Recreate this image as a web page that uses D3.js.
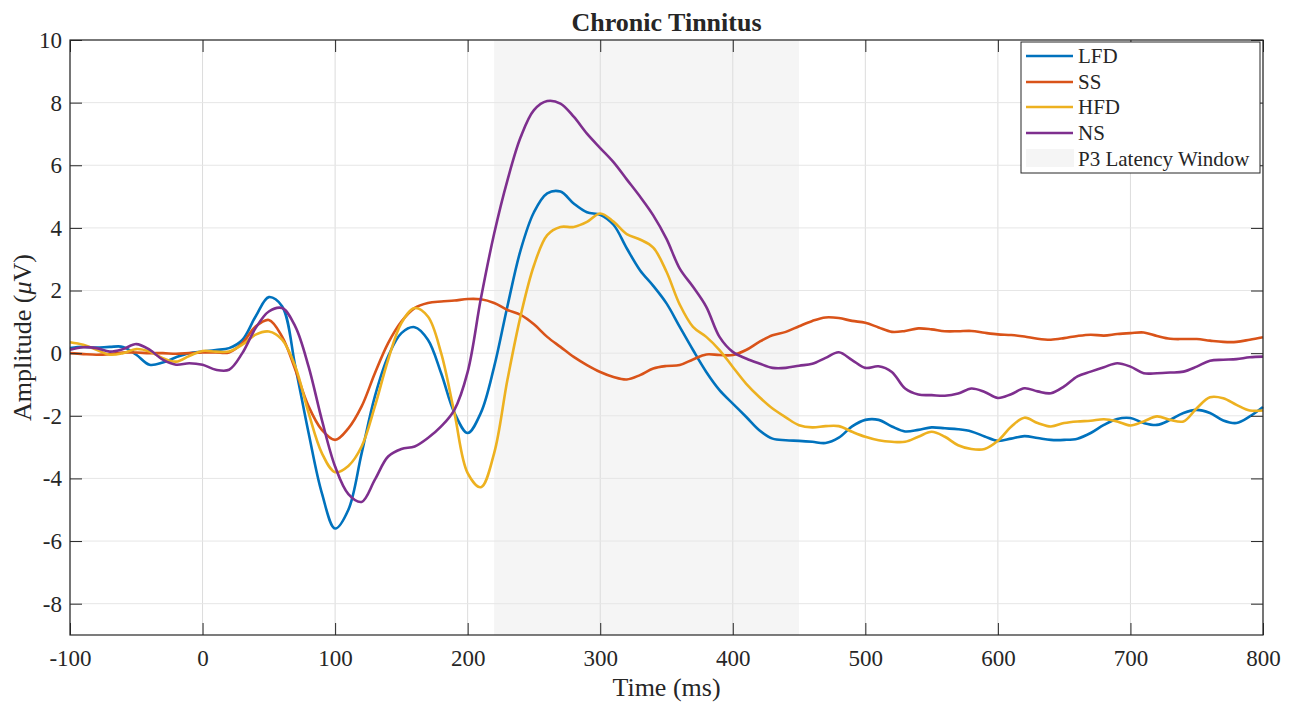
<!DOCTYPE html>
<html>
<head>
<meta charset="utf-8">
<script src="https://cdn.jsdelivr.net/npm/d3@7"></script>
<style>
  body { margin: 0; background: #fff; }
  svg text { font-family: "Liberation Serif", "Times New Roman", serif; fill: #262626; }
</style>
</head>
<body>
<div id="graph"></div>
<script>
// sample times (ms) shared by every series
const time = [-100, -90, -80, -70, -60, -50, -40, -30, -20, -10,
    0, 10, 20, 30, 40, 50, 60, 70, 80, 90,
    100, 110, 120, 130, 140, 150, 160, 170, 180, 190,
    200, 210, 220, 230, 240, 250, 260, 270, 280, 290,
    300, 310, 320, 330, 340, 350, 360, 370, 380, 390,
    400, 410, 420, 430, 440, 450, 460, 470, 480, 490,
    500, 510, 520, 530, 540, 550, 560, 570, 580, 590,
    600, 610, 620, 630, 640, 650, 660, 670, 680, 690,
    700, 710, 720, 730, 740, 750, 760, 770, 780, 790, 800];

const lfd = [0.16, 0.2, 0.18, 0.2, 0.2, -0.05, -0.37, -0.3, -0.13, 0,
    0.05, 0.1, 0.16, 0.42, 1.17, 1.79, 1.5, -0.43, -2.55, -4.47,
    -5.6, -5.0, -3.2, -1.38, -0.1, 0.64, 0.83, 0.43, -0.64, -1.9,
    -2.55, -1.9, -0.43, 1.5, 3.3, 4.5, 5.1, 5.16, 4.78, 4.5,
    4.42, 4.1, 3.35, 2.65, 2.15, 1.59, 0.84, 0.1, -0.6, -1.18,
    -1.61, -2.03, -2.46, -2.73, -2.78, -2.8, -2.83, -2.87, -2.7, -2.34,
    -2.13, -2.13, -2.34, -2.5, -2.45, -2.37, -2.4, -2.43, -2.5, -2.66,
    -2.8, -2.73, -2.65, -2.71, -2.77, -2.77, -2.73, -2.55, -2.29, -2.1,
    -2.07, -2.23, -2.29, -2.13, -1.91, -1.81, -1.91, -2.15, -2.23, -2.02, -1.72];

const ss = [0, -0.03, -0.05, -0.03, 0.02, 0.02, 0, 0, -0.02, 0,
    0.02, 0.02, 0.02, 0.32, 0.85, 1.06, 0.53, -0.53, -1.7, -2.45,
    -2.77, -2.4, -1.7, -0.64, 0.32, 1.01, 1.44, 1.6, 1.65, 1.68,
    1.73, 1.72, 1.6, 1.38, 1.22, 0.92, 0.52, 0.2, -0.12, -0.38,
    -0.6, -0.76, -0.84, -0.7, -0.49, -0.41, -0.38, -0.2, -0.04, -0.06,
    -0.06, 0.1, 0.36, 0.57, 0.68, 0.86, 1.03, 1.14, 1.12, 1.03,
    0.97, 0.82, 0.68, 0.71, 0.79, 0.76, 0.7, 0.7, 0.71, 0.65,
    0.6, 0.58, 0.53, 0.46, 0.43, 0.48, 0.55, 0.59, 0.56, 0.61,
    0.64, 0.66, 0.55, 0.46, 0.45, 0.45, 0.4, 0.36, 0.36, 0.43, 0.51];

const hfd = [0.35, 0.27, 0.11, -0.05, 0, 0.13, 0.05, -0.16, -0.27, -0.09,
    0.07, 0.05, 0.05, 0.27, 0.59, 0.69, 0.43, -0.43, -1.91, -3.19,
    -3.8, -3.6, -2.98, -1.7, -0.21, 0.96, 1.44, 1.17, 0, -1.91,
    -3.83, -4.28, -3.19, -0.85, 1.2, 2.8, 3.77, 4.03, 4.03, 4.19,
    4.46, 4.2, 3.8, 3.63, 3.37, 2.6, 1.55, 0.84, 0.52, 0.1,
    -0.44, -0.97, -1.4, -1.77, -2.05, -2.3, -2.37, -2.33, -2.33, -2.51,
    -2.67, -2.78, -2.83, -2.83, -2.67, -2.51, -2.67, -2.94, -3.06, -3.06,
    -2.8, -2.35, -2.06, -2.23, -2.34, -2.23, -2.18, -2.16, -2.11, -2.18,
    -2.31, -2.18, -2.02, -2.13, -2.18, -1.76, -1.41, -1.44, -1.65, -1.83, -1.83];

const ns = [0.11, 0.19, 0.16, 0.05, 0.13, 0.29, 0.11, -0.21, -0.37, -0.32,
    -0.37, -0.53, -0.53, 0, 0.8, 1.33, 1.44, 0.85, -0.43, -2.13,
    -3.62, -4.5, -4.75, -4.04, -3.3, -3.06, -2.98, -2.71, -2.34, -1.81,
    -0.6, 1.75, 3.82, 5.52, 6.9, 7.76, 8.05, 7.97, 7.55, 7.01,
    6.55, 6.1, 5.55, 5.0, 4.4, 3.65, 2.7, 2.12, 1.48, 0.52,
    0.04, -0.17, -0.33, -0.47, -0.47, -0.4, -0.34, -0.15, 0.03, -0.22,
    -0.47, -0.42, -0.6, -1.13, -1.32, -1.34, -1.36, -1.29, -1.13, -1.24,
    -1.43, -1.31, -1.12, -1.22, -1.28, -1.06, -0.74, -0.59, -0.45, -0.32,
    -0.43, -0.64, -0.64, -0.62, -0.59, -0.43, -0.24, -0.21, -0.19, -0.13, -0.11];

const seriesNames = ['LFD', 'SS', 'HFD', 'NS'];
const seriesColors = ['#0072BD', '#D95319', '#EDB120', '#7E2F8E'];
const p3Window = [220, 450];
const xTicks = [-100, 0, 100, 200, 300, 400, 500, 600, 700, 800];
const yTicks = [-8, -6, -4, -2, 0, 2, 4, 6, 8, 10];

const W = 1303, H = 709;
const margin = { top: 40, right: 40, bottom: 74, left: 70 },
    width = W - margin.left - margin.right,
    height = H - margin.top - margin.bottom;

const svg = d3.select('#graph').append('svg')
    .attr('width', W).attr('height', H);
const g = svg.append('g')
    .attr('transform', 'translate(' + margin.left + ',' + margin.top + ')');

const x = d3.scaleLinear().domain([-100, 800]).range([0, width]);
const y = d3.scaleLinear().domain([-9, 10]).range([height, 0]);

// shaded P3 window
g.append('rect')
    .attr('x', x(p3Window[0])).attr('y', 0)
    .attr('width', x(p3Window[1]) - x(p3Window[0]))
    .attr('height', height)
    .attr('fill', '#f5f5f5');

// grid
g.append('g').selectAll('line').data(xTicks).enter().append('line')
    .attr('x1', d => x(d)).attr('x2', d => x(d))
    .attr('y1', 0).attr('y2', height)
    .attr('stroke', '#dcdcdc').attr('stroke-width', 1);
g.append('g').selectAll('line').data(yTicks).enter().append('line')
    .attr('x1', 0).attr('x2', width)
    .attr('y1', d => y(d)).attr('y2', d => y(d))
    .attr('stroke', '#e6e6e6').attr('stroke-width', 1);

// curves
const line = d3.line()
    .x((d, i) => x(time[i]))
    .y(d => y(d))
    .curve(d3.curveCatmullRom.alpha(0.5));

[lfd, ss, hfd, ns].forEach((vals, k) => {
    g.append('path')
        .datum(vals)
        .attr('fill', 'none')
        .attr('stroke', seriesColors[k])
        .attr('stroke-width', 2.6)
        .attr('stroke-linejoin', 'round')
        .attr('d', line);
});

// axes, ticks pointing inward, box on
const tickLen = 12;
const plain = d => String(d);   // hyphen minus like the original
const styleAxis = (sel) => {
    sel.select('.domain').remove();
    sel.selectAll('.tick line').attr('stroke', '#262626');
    sel.selectAll('.tick text')
        .style('font-family', '"Liberation Serif", serif')
        .style('font-size', '23px').attr('fill', '#262626');
};

g.append('g')
    .attr('transform', 'translate(0,' + height + ')')
    .call(d3.axisBottom(x).tickValues(xTicks).tickFormat(plain).tickSizeInner(-tickLen).tickSizeOuter(0).tickPadding(15))
    .call(styleAxis);
g.append('g')
    .call(d3.axisTop(x).tickValues(xTicks).tickSizeInner(-tickLen).tickSizeOuter(0).tickFormat(''))
    .call(styleAxis);
g.append('g')
    .call(d3.axisLeft(y).tickValues(yTicks).tickFormat(plain).tickSizeInner(-tickLen).tickSizeOuter(0).tickPadding(8))
    .call(styleAxis);
g.append('g')
    .attr('transform', 'translate(' + width + ',0)')
    .call(d3.axisRight(y).tickValues(yTicks).tickSizeInner(-tickLen).tickSizeOuter(0).tickFormat(''))
    .call(styleAxis);

g.append('rect')
    .attr('width', width).attr('height', height)
    .attr('fill', 'none').attr('stroke', '#262626').attr('stroke-width', 1.2);

// labels
svg.append('text')
    .attr('x', margin.left + width / 2).attr('y', 31)
    .attr('text-anchor', 'middle')
    .style('font-size', '26px').style('font-weight', 'bold')
    .attr('fill', '#000')
    .text('Chronic Tinnitus');

svg.append('text')
    .attr('x', margin.left + width / 2).attr('y', 696)
    .attr('text-anchor', 'middle')
    .style('font-size', '26px')
    .text('Time (ms)');

const yl = svg.append('text')
    .attr('transform', 'translate(31,' + (margin.top + height / 2) + ') rotate(-90)')
    .attr('text-anchor', 'middle')
    .style('font-size', '26px');
yl.append('tspan').text('Amplitude (');
yl.append('tspan').style('font-style', 'italic').text('\u03bc');
yl.append('tspan').text('V)');

// legend
const lg = svg.append('g').attr('transform', 'translate(1021,42)');
lg.append('rect')
    .attr('width', 239).attr('height', 131)
    .attr('fill', '#fff').attr('stroke', '#262626').attr('stroke-width', 1);
const rowY = [14, 40, 65, 91];
seriesNames.forEach((name, k) => {
    lg.append('line')
        .attr('x1', 5).attr('x2', 52)
        .attr('y1', rowY[k]).attr('y2', rowY[k])
        .attr('stroke', seriesColors[k]).attr('stroke-width', 2.6);
    lg.append('text')
        .attr('x', 57).attr('y', rowY[k] + 7)
        .style('font-size', '21px')
        .attr('fill', '#000')
        .text(name);
});
lg.append('rect')
    .attr('x', 5).attr('y', 107).attr('width', 48).attr('height', 18)
    .attr('fill', '#f5f5f5');
lg.append('text')
    .attr('x', 57).attr('y', 124)
    .style('font-size', '21px')
    .attr('fill', '#000')
    .text('P3 Latency Window');
</script>
</body>
</html>
